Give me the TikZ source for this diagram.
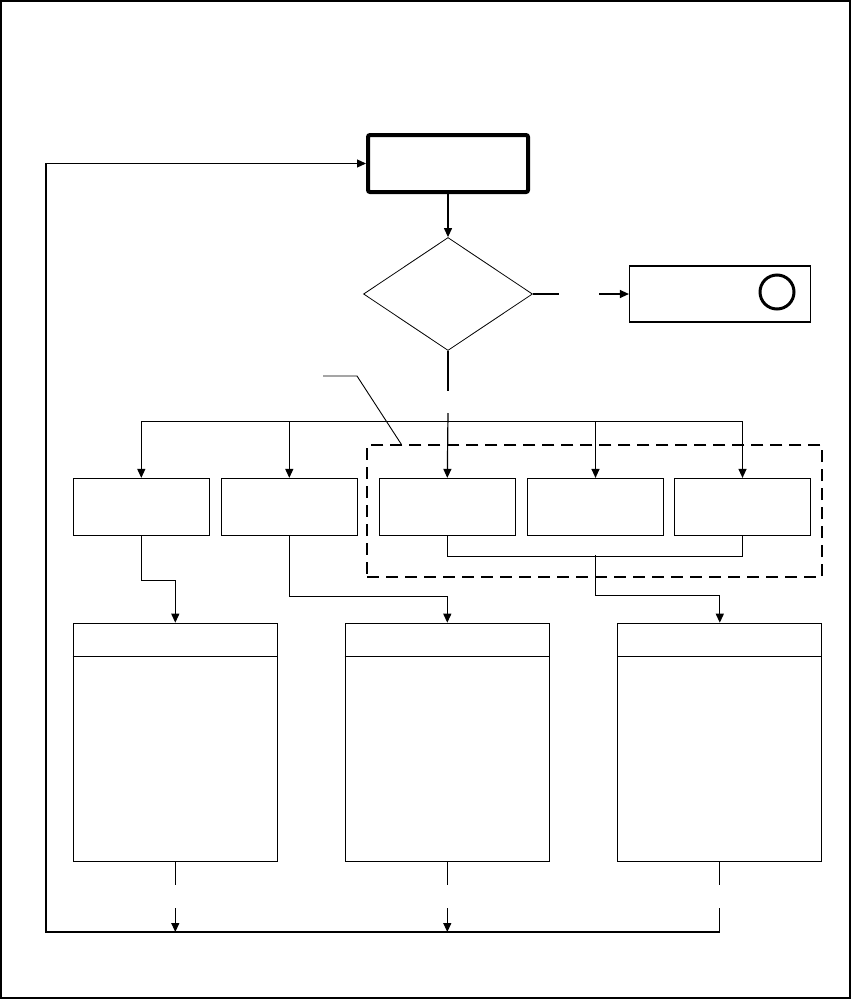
\documentclass[tikz,border=0pt]{standalone}
\usetikzlibrary{arrows.meta,positioning,shapes.geometric,calc}
\begin{document}
\begin{tikzpicture}[x=1pt, y=-1pt,
  procbox/.style={draw, line width=1.2pt, minimum width=136pt, minimum height=57pt, inner sep=0pt},
  bigbox/.style={draw, line width=1.2pt, minimum width=204pt, minimum height=238pt, inner sep=0pt},
  link/.style={line width=1.2pt},
  arrow/.style={link, -{Triangle[length=9pt,width=8pt]}}]
  \useasboundingbox (0,0) rectangle (852,999);

  % Outer frame
  \draw[line width=1.2pt] (1,1) rectangle (850,998);

  % Start node
  \node[draw, line width=4pt, rounded corners=2pt, minimum width=160pt, minimum height=57pt, inner sep=0pt] (start) at (448,163.5) {};

  % Decision
  \node[diamond, draw, line width=0.8pt, minimum width=169pt, minimum height=113pt, inner sep=0pt] (dec) at (448,294) {};

  % Exit box with marker
  \node[draw, line width=1.2pt, minimum width=181pt, minimum height=56pt, inner sep=0pt] (exit) at (720,294) {};
  \node[circle, draw, line width=3pt, minimum size=34pt, inner sep=0pt] (mark) at (777,292) {};

  % Row of steps
  \node[procbox] (b1) at (141.3,507) {};
  \node[procbox] (b2) at (289.3,507) {};
  \node[procbox] (b3) at (447.3,507) {};
  \node[procbox] (b4) at (595.5,507) {};
  \node[procbox] (b5) at (742.5,507) {};

  % Dashed group round b3..b5
  \node[draw, line width=2.2pt, dash pattern=on 12pt off 7pt, minimum width=455pt, minimum height=132pt, inner sep=0pt] (grp) at (594.8,511.2) {};
  \coordinate (note) at (323,376);
  \draw[line width=0.9pt] (note) -- ++(34,0) -- ([xshift=35pt]grp.north west);

  % Output blocks with header line
  \node[bigbox] (p1) at (175.3,742.3) {};
  \node[bigbox] (p2) at (447.3,742.3) {};
  \node[bigbox] (p3) at (719.8,742.3) {};
  \foreach \p in {p1,p2,p3}
    \draw[link] ([yshift=-34pt]\p.north west) -- ([yshift=-34pt]\p.north east);

  % Start to decision
  \draw[arrow] (start) -- (dec);

  % Decision to exit (broken line)
  \draw[link] (dec.east) -- ++(26,0);
  \coordinate (exitin) at (599,294);
  \draw[arrow] (exitin) -- (exit.west);

  % Decision down to the bus (broken line)
  \draw[link] (dec.south) -- ++(0,40);
  \coordinate (busin) at (448,413);
  \draw[arrow] (busin) -- (b3.north);
  \coordinate (busL) at (141.3,421.7);
  \coordinate (busR) at (742.5,421.7);
  \draw[link] (busL) -- (busR);
  \foreach \b in {b1,b2,b4,b5}
    \draw[arrow] (\b.north |- busL) -- (\b.north);

  % Steps to output blocks
  \draw[arrow] (b1.south) |- ++(34,44) -- (p1.north);
  \draw[arrow] (b2.south) |- ++(158,60) -- (p2.north);
  \draw[link] (b3.south) -- ++(0,20) -| (b5.south);
  \coordinate (merge) at (595.5,555.3);
  \draw[arrow] (merge) |- ++(124.3,40) -- (p3.north);

  % Back loop (broken lines)
  \coordinate (loopL) at (46,932);
  \foreach \p in {p1,p2,p3}
    \draw[link] (\p.south) -- ++(0,23);
  \draw[arrow] ($(p1.south |- loopL)+(0,-24)$) -- (p1.south |- loopL);
  \draw[arrow] ($(p2.south |- loopL)+(0,-24)$) -- (p2.south |- loopL);
  \draw[arrow] ($(p3.south |- loopL)+(0,-24)$) -- (p3.south |- loopL) -- (loopL) |- (start.west);
\end{tikzpicture}
\end{document}
